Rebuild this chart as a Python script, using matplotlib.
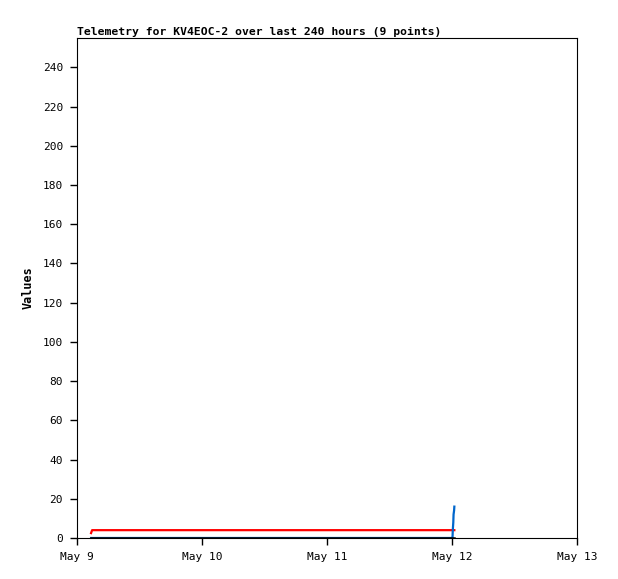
import numpy as np
import matplotlib.pyplot as plt
import matplotlib.dates as mdates
from datetime import datetime, timedelta

# hours after May 9 00:00 for the 9 telemetry points
hours = [2.7, 2.9, 72.0, 72.1, 72.15, 72.25, 72.3, 72.4, 72.45]
red_vals = [2.5, 4, 4, 4, 4, 4, 4, 4, 4]
black_vals = [0, 0, 0, 0, 0, 0, 0, 0, 0]
blue_vals = [0, 0, 0, 0, 4, 8, 12, 14, 16]

x_ticks = ["May 9", "May 10", "May 11", "May 12", "May 13"]
y_ticks = [0, 20, 40, 60, 80, 100, 120, 140, 160, 180, 200, 220, 240]

start = datetime(2024, 5, 9)
times = [start + timedelta(hours=h) for h in hours]

plt.rcParams['font.family'] = ['DejaVu Sans Mono']

fig = plt.figure(figsize=(6.18, 5.79), dpi=100)
ax = fig.add_axes([77 / 618, 41 / 579, 500 / 618, 500 / 579])

ax.plot(times, red_vals, color='#ff0000', lw=1.6, zorder=2)
ax.plot(times, blue_vals, color='#0066cc', lw=1.6, zorder=3)
ax.plot(times, black_vals, color='black', lw=1.8, zorder=4)

ax.set_xlim(start, start + timedelta(days=4))
ax.set_ylim(0, 255)
ax.set_xticks([start + timedelta(days=i) for i in range(5)])
ax.set_xticklabels(x_ticks)
ax.set_yticks(y_ticks)
ax.tick_params(direction='out', length=5, width=1, labelsize=8, colors='black')
ax.tick_params(axis='y', pad=5)
ax.tick_params(axis='x', pad=5)
for s in ax.spines.values():
    s.set_linewidth(0.8)

ax.set_ylabel('Values', fontsize=8.5, fontweight='bold', labelpad=6)
ax.set_title('Telemetry for KV4EOC-2 over last 240 hours (9 points)',
             fontsize=8.2, fontweight='bold', loc='left', pad=2)

fig.savefig('out.png', dpi=100)
